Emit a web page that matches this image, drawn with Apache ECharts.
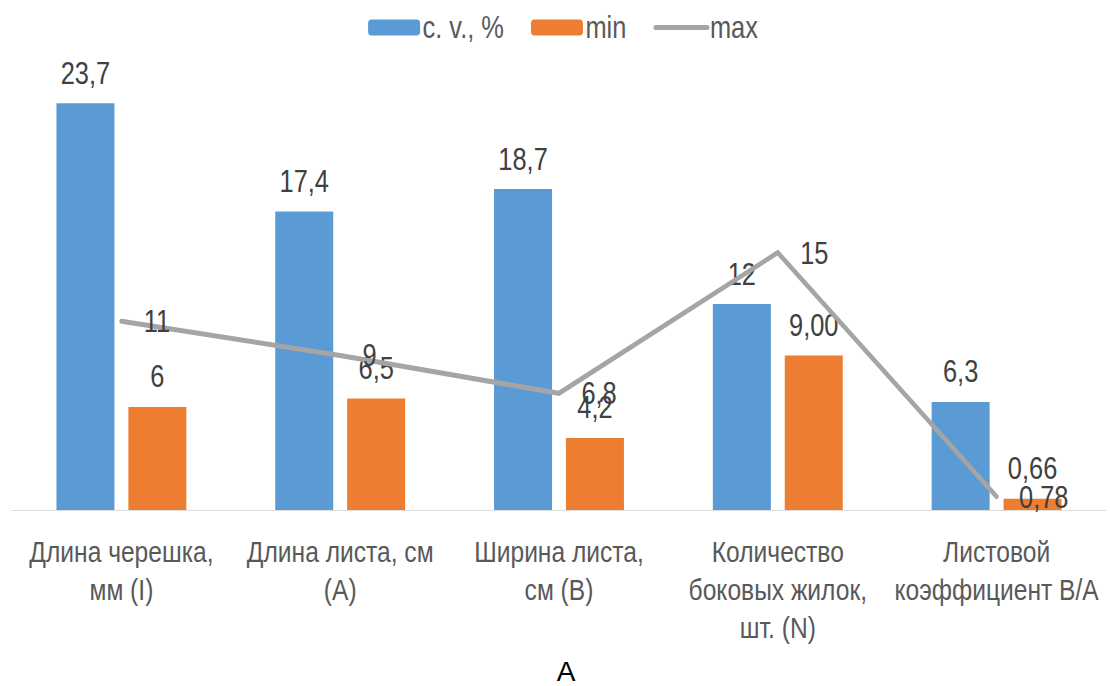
<!DOCTYPE html>
<html>
<head>
<meta charset="utf-8">
<script src="https://cdn.jsdelivr.net/npm/echarts@6/dist/echarts.min.js"></script>
<style>
  html, body { margin: 0; padding: 0; background: #fff; overflow: hidden; }
  #wrap { width: 1110px; height: 686px; overflow: hidden; }
  /* the chart is laid out wider and squeezed horizontally to get a condensed typeface look */
  #chart { height: 686px; transform-origin: 0 0; }
</style>
</head>
<body>
<div id="wrap"><div id="chart"></div></div>
<script>
// Leaf trait variability: coefficient of variation, minimum and maximum
const categories = [
  'Длина черешка,\nмм (I)',
  'Длина листа, см\n(A)',
  'Ширина листа,\nсм (B)',
  'Количество\nбоковых жилок,\nшт. (N)',
  'Листовой\nкоэффициент B/A'
];
const seriesNames = ['c. v., %', 'min', 'max'];
const cvValues = [23.7, 17.4, 18.7, 12, 6.3];
const minValues = [6, 6.5, 4.2, 9.00, 0.66];
const maxValues = [11, 9, 6.8, 15, 0.78];
// decimals shown in each data label
const cvDecimals = [1, 1, 1, 0, 1];
const minDecimals = [0, 1, 1, 2, 2];
const maxDecimals = [0, 0, 1, 0, 2];

const W = 1110, H = 686;
const SQUEEZE = 0.82;               // horizontal condensing factor
const innerW = Math.round(W / SQUEEZE);
const sx = W / innerW;
const X = v => v / sx;              // page x -> inner chart x

const el = document.getElementById('chart');
el.style.width = innerW + 'px';
el.style.transform = 'scaleX(' + sx + ')';

const FONT = '"Liberation Sans", Arial, sans-serif';

function fmt(decimals) {
  return p => p.value.toFixed(decimals[p.dataIndex]).replace('.', ',');
}

const labelText = { fontFamily: FONT, fontSize: 31, color: '#404040' };

const chart = echarts.init(el, null, { renderer: 'svg', width: innerW, height: H });
chart.setOption({
  animation: false,
  legend: {
    top: 7,
    left: X(364),
    itemWidth: X(52),
    itemHeight: 16,
    itemGap: X(27),
    textStyle: { fontFamily: FONT, fontSize: 31, color: '#595959', padding: [0, 0, 0, -2] },
    data: [
      { name: seriesNames[0] },
      { name: seriesNames[1] },
      { name: seriesNames[2], itemStyle: { opacity: 0 }, lineStyle: { width: 5, color: '#A5A5A5', cap: 'round' } }
    ]
  },
  grid: { left: X(12), right: X(4), top: 81, bottom: 176, containLabel: false },
  xAxis: {
    type: 'category',
    data: categories,
    axisLine: { lineStyle: { color: '#D9D9D9', width: 1 } },
    axisTick: { show: false },
    axisLabel: {
      interval: 0,
      margin: 23,
      fontFamily: FONT,
      fontSize: 30,
      lineHeight: 38,
      color: '#595959'
    }
  },
  yAxis: {
    type: 'value',
    min: 0,
    max: 25,
    show: false,
    splitLine: { show: false }
  },
  series: [
    {
      name: seriesNames[0],
      type: 'bar',
      data: cvValues,
      barWidth: X(58),
      barGap: '24%',
      itemStyle: { color: '#5B9BD5' },
      label: { show: true, position: 'top', distance: 15, formatter: fmt(cvDecimals), ...labelText }
    },
    {
      name: seriesNames[1],
      type: 'bar',
      data: minValues,
      barWidth: X(58),
      itemStyle: { color: '#ED7D31' },
      label: { show: true, position: 'top', distance: 15, formatter: fmt(minDecimals), ...labelText }
    },
    {
      name: seriesNames[2],
      type: 'line',
      data: maxValues,
      symbol: 'circle',
      symbolSize: 1,
      z: 5,
      lineStyle: { color: '#A5A5A5', width: 5, cap: 'round', join: 'miter' },
      itemStyle: { color: '#A5A5A5' },
      label: { show: true, position: 'right', distance: X(22), formatter: fmt(maxDecimals), ...labelText }
    }
  ],
  graphic: [
    {
      type: 'text',
      x: X(566),
      y: 657,
      scaleX: 1 / sx,
      style: {
        text: 'A',
        fontFamily: FONT,
        fontSize: 28,
        fill: '#000',
        align: 'center',
        verticalAlign: 'top'
      }
    }
  ]
});
</script>
</body>
</html>
